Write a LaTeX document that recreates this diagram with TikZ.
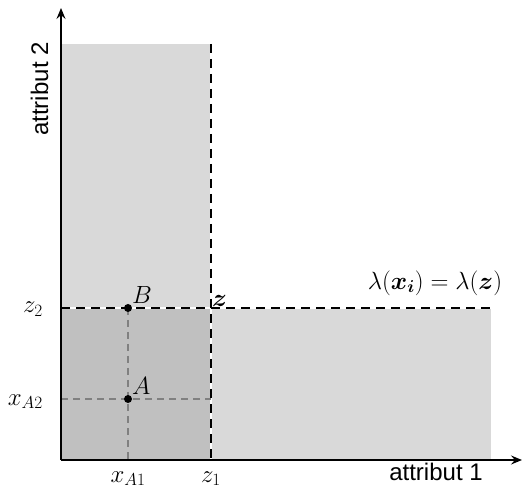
\documentclass[tikz,border=0pt]{standalone}
\usepackage{amsmath}
\usepackage{fontspec}
\newfontfamily\axisfont{Liberation Sans}
\usetikzlibrary{arrows.meta}
\definecolor{ink}{HTML}{000000}
\definecolor{lightarea}{HTML}{D9D9D9}
\definecolor{darkarea}{HTML}{C0C0C0}
\definecolor{guide}{HTML}{808080}
\tikzset{
  axis/.style={-{Stealth[length=11pt,width=9pt,inset=4pt]}, ink, line width=2pt},
  bound/.style={ink, line width=2pt, dash pattern=on 9pt off 6pt},
  gap/.style={white, line width=1.6pt},
  helper/.style={guide, line width=1.5pt, dash pattern=on 7pt off 5pt},
  dot/.style={circle, fill=ink, inner sep=0pt, minimum size=8pt},
  mlabel/.style={font=\fontsize{24}{28}\selectfont, inner sep=1pt},
  alabel/.style={font=\axisfont\fontsize{24}{28}\selectfont, inner sep=0pt}
}

\begin{document}
\begin{tikzpicture}[x=1pt,y=1pt]
\useasboundingbox (0,0) rectangle (528,488);

\coordinate (O) at (61,28);
\coordinate (xend) at (522,28);
\coordinate (yend) at (61,480);
\coordinate (z) at (211,180);
\coordinate (ztop) at (211,444);
\coordinate (zbot) at (211,28);
\coordinate (zleft) at (61,180);
\coordinate (zright) at (491,180);
\coordinate (xa1) at (128,28);
\coordinate (xa2) at (61,89);
\coordinate (xa2end) at (211,89);
\coordinate (Apt) at (128,89);
\coordinate (Bpt) at (128,180);

% regions
\fill[lightarea] (O) rectangle (ztop);
\fill[lightarea] (O) rectangle (zright);
\fill[darkarea] (O) rectangle (z);
\draw[gap] (zbot) -- (ztop);
\draw[gap] (zleft) -- (zright);

% bounds of z
\draw[bound] (ztop) -- (zbot);
\draw[bound] (zleft) -- (zright);

% points
\draw[helper] (Bpt) -- (xa1);
\draw[helper] (xa2) -- (xa2end);
\node[dot] (A) at (Apt) {};
\node[dot] (B) at (Bpt) {};

% axes
\draw[axis] (O) -- (xend);
\draw[axis] (O) -- (yend);

\node[mlabel, anchor=south west] (labA) at (A.north east) {$A$};
\node[mlabel, anchor=south west] (labB) at (B.north east) {$B$};
\node[mlabel, anchor=south west] (labz) at (z) {$\boldsymbol{z}$};
\node[mlabel] (lambda) at (435,205) {$\lambda(\boldsymbol{x}_{\boldsymbol{i}})=\lambda(\boldsymbol{z})$};

\node[mlabel, anchor=base east] (labz2) at (44,175) {$z_2$};
\node[mlabel, anchor=base east] (labxa2) at (44,83) {$x_{A2}$};
\node[mlabel, anchor=base] (labxa1) at (128,6) {$x_{A1}$};
\node[mlabel, anchor=base] (labz1) at (211,6) {$z_1$};

\node[alabel, anchor=base] (att1) at (436,8) {attribut 1};
\node[alabel, anchor=base, rotate=90] (att2) at (48,399) {attribut 2};

\end{tikzpicture}
\end{document}
